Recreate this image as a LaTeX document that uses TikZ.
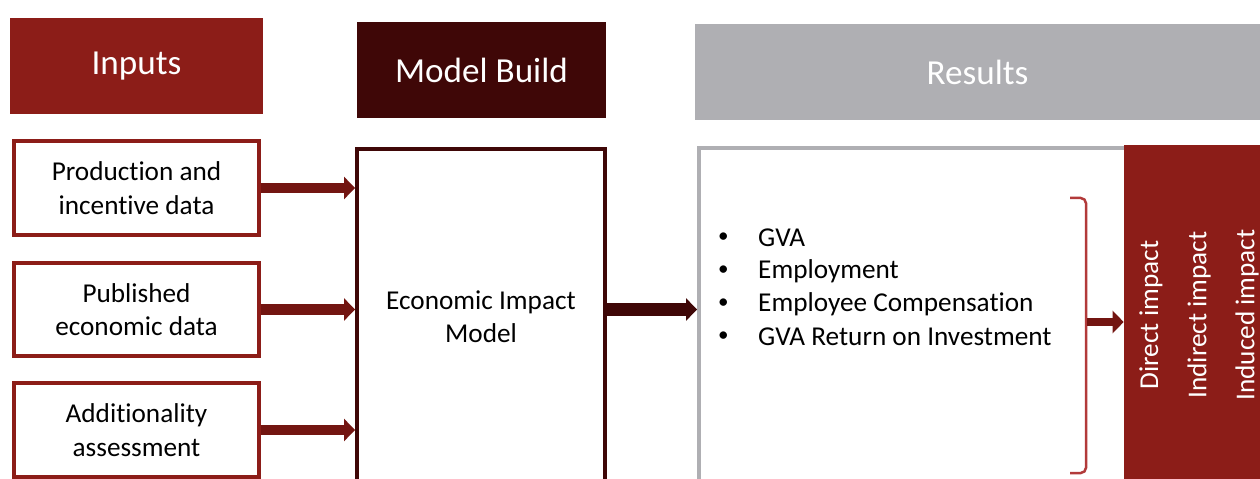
\documentclass[tikz,border=0pt]{standalone}
\usepackage{fontspec}
\setmainfont{Carlito}[Ligatures={NoCommon,NoContextual}]
\usetikzlibrary{arrows.meta}

\definecolor{inred}{HTML}{8C1D18}
\definecolor{modeldark}{HTML}{3F0707}
\definecolor{resgray}{HTML}{AFAFB3}
\definecolor{arrowred}{HTML}{731511}
\definecolor{bracered}{HTML}{B23A3A}

\tikzset{
  headbox/.style={minimum height=1.94cm, text=white, font=\fontsize{20}{22}\selectfont},
  inbox/.style={draw=inred, line width=0.08cm, minimum width=4.9cm, minimum height=1.88cm,
    align=center, font=\fontsize{15.5}{19}\selectfont},
  fatarrow/.style={line width=0.21cm, -{Triangle[length=0.22cm,width=0.44cm]}},
  bullettext/.style={anchor=west, font=\fontsize{15.5}{18}\selectfont},
  impact/.style={rotate=90, text=white, font=\fontsize{15.5}{18}\selectfont}
}

\begin{document}
\begin{tikzpicture}[x=0.02cm,y=-0.02cm]
      \useasboundingbox (0,0) rectangle (1260,479);

      % column heads
      \node[headbox, fill=inred, minimum width=5.06cm] (inhead) at (136.5,66) {Inputs};
      \node[headbox, fill=modeldark, minimum width=4.98cm, minimum height=1.92cm] (modelhead) at (481.5,70) {Model Build};
      \node[headbox, fill=resgray, minimum width=11.3cm, minimum height=1.92cm] (reshead) at (977.5,72) {Results};

      % inputs
      \node[inbox] (in1) at (136.5,188) {Production and\\incentive data};
      \node[inbox] (in2) at (136.5,309.5) {Published\\economic data};
      \node[inbox] (in3) at (136.5,430) {Additionality\\assessment};

      % model and results boxes run off the bottom
      \node[draw=modeldark, line width=0.08cm, minimum width=4.96cm, minimum height=7.42cm] (model) at (481,334.5) {};
      \node at (481,317) [align=center, font=\fontsize{15.5}{19}\selectfont] (modeltxt) {Economic Impact\\Model};
      \node[draw=resgray, line width=0.08cm, minimum width=8.82cm, minimum height=7.44cm] (results) at (919.5,334) {};
      \node[fill=inred, minimum width=2.76cm, minimum height=7.1cm] (impactcol) at (1193,322.5) {};

      \foreach \i in {1,2,3}
      {
          \draw[fatarrow, arrowred] (in\i.east) -- (in\i.east -| model.west);
      }
      \draw[fatarrow, modeldark, line width=0.25cm] (model.east |- in2) -- (results.west |- in2);

      % result list
      \foreach \y/\t [count=\n] in {238/GVA, 271/Employment, 304/Employee Compensation, 337/GVA Return on Investment}
      {
          \node[bullettext, font=\large] (dot\n) at (712,\y) {\textbullet};
          \node[bullettext] (item\n) at (752,\y) {\t};
      }

      \draw[bracered, line width=0.05cm, rounded corners=3pt] (1070,198) -| (1086,473) -- (1070,473);
      \coordinate (brace) at (1087,322);
      \draw[fatarrow, arrowred, line width=0.18cm] (brace) -- (impactcol.west |- brace);

      \node[impact] (direct) at (1151,315) {Direct impact};
      \node[impact] (indirect) at (1199,315) {Indirect impact};
      \node[impact] (induced) at (1247,315) {Induced impact};

\end{tikzpicture}
\end{document}
